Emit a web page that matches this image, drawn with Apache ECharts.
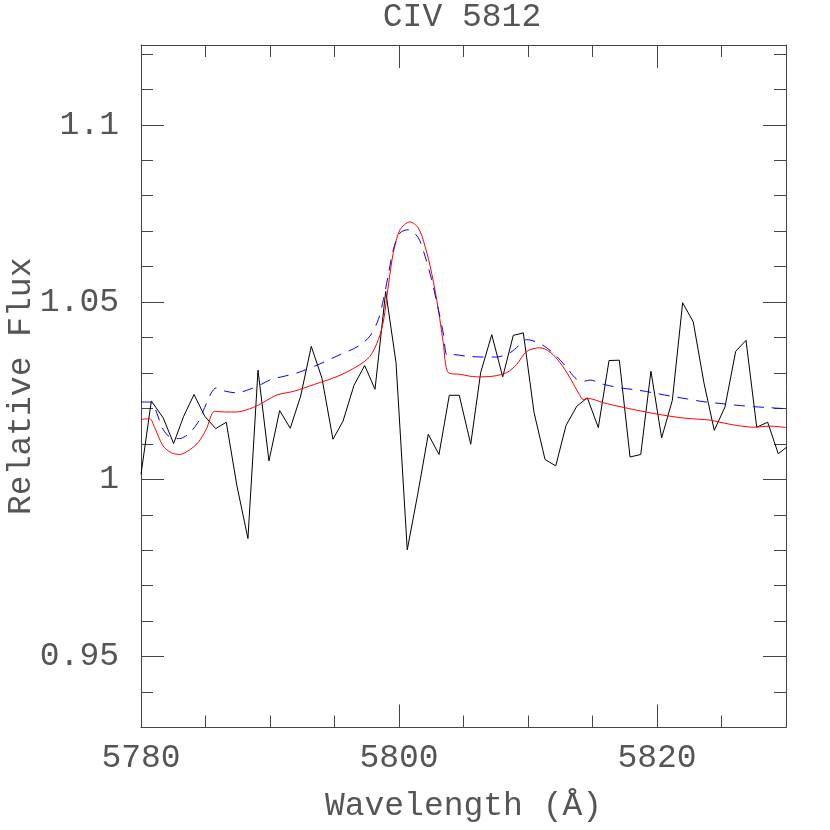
<!DOCTYPE html>
<html>
<head>
<meta charset="utf-8">
<title>CIV 5812</title>
<script src="https://cdn.jsdelivr.net/npm/echarts@6/dist/echarts.min.js"></script>
<style>
  html, body { margin: 0; padding: 0; background: #fff; }
  #chart { width: 830px; height: 830px; }
</style>
</head>
<body>
<div id="chart"></div>
<script>
// observed spectrum (black)
var obsWave = [5780.00, 5780.80, 5781.71, 5782.53, 5783.31, 5784.11, 5784.94, 5785.79, 5786.61, 5787.44,
  5788.29, 5789.07, 5789.92, 5790.75, 5791.57, 5792.38, 5793.20, 5794.03, 5794.88, 5795.66,
  5796.51, 5797.34, 5798.14, 5798.97, 5799.77, 5800.64, 5801.45, 5802.27, 5803.10, 5803.90,
  5804.67, 5805.56, 5806.33, 5807.19, 5808.04, 5808.86, 5809.64, 5810.47, 5811.32, 5812.15,
  5812.95, 5813.78, 5814.60, 5815.45, 5816.28, 5817.08, 5817.91, 5818.74, 5819.53, 5820.36,
  5821.19, 5821.99, 5822.81, 5823.64, 5824.44, 5825.27, 5826.10, 5826.90, 5827.73, 5828.58,
  5829.40, 5830.07]
var obsFlux = [1.0014, 1.0221, 1.0174, 1.0101, 1.0178, 1.0239, 1.0178, 1.0143, 1.0161, 0.9981,
  0.9833, 1.0308, 1.0052, 1.0194, 1.0144, 1.0235, 1.0375, 1.0285, 1.0113, 1.0164,
  1.0265, 1.0321, 1.0254, 1.0530, 1.0329, 0.9801, 0.9958, 1.0127, 1.0070, 1.0237,
  1.0237, 1.0099, 1.0301, 1.0408, 1.0289, 1.0406, 1.0413, 1.0188, 1.0056, 1.0038,
  1.0152, 1.0206, 1.0230, 1.0146, 1.0335, 1.0336, 1.0063, 1.0070, 1.0305, 1.0117,
  1.0223, 1.0498, 1.0444, 1.0272, 1.0138, 1.0204, 1.0361, 1.0392, 1.0147, 1.0161,
  1.0072, 1.0091]

// model 1 (red, solid)
var redWave = [5780.00, 5780.67, 5781.06, 5781.71, 5782.35, 5783.00, 5783.64, 5784.41, 5785.06, 5785.71,
  5786.49, 5787.39, 5788.43, 5789.33, 5790.10, 5790.62, 5791.91, 5793.46, 5795.27, 5796.82,
  5797.75, 5798.40, 5798.79, 5799.17, 5799.56, 5800.08, 5800.85, 5801.50, 5802.02, 5802.53,
  5803.05, 5803.43, 5803.82, 5804.73, 5806.02, 5807.31, 5808.35, 5809.12, 5809.90, 5810.93,
  5811.71, 5812.48, 5813.26, 5813.98, 5814.29, 5814.67, 5815.84, 5817.13, 5818.43, 5819.71,
  5821.01, 5822.30, 5824.11, 5824.88, 5826.18, 5827.47, 5828.76, 5830.00]
var redFlux = [1.0169, 1.0171, 1.0146, 1.0094, 1.0075, 1.0070, 1.0080, 1.0103, 1.0141, 1.0192,
  1.0190, 1.0190, 1.0199, 1.0214, 1.0230, 1.0239, 1.0249, 1.0268, 1.0291, 1.0320,
  1.0347, 1.0394, 1.0446, 1.0545, 1.0639, 1.0704, 1.0726, 1.0709, 1.0657, 1.0582,
  1.0479, 1.0385, 1.0301, 1.0296, 1.0289, 1.0291, 1.0301, 1.0324, 1.0361, 1.0371,
  1.0359, 1.0329, 1.0286, 1.0239, 1.0225, 1.0228, 1.0216, 1.0205, 1.0195, 1.0186,
  1.0178, 1.0172, 1.0167, 1.0161, 1.0152, 1.0147, 1.0150, 1.0146]

// model 2 (blue, dashed)
var blueWave = [5780.00, 5780.67, 5781.06, 5781.71, 5782.35, 5783.00, 5783.64, 5784.41, 5784.93, 5785.45,
  5785.84, 5786.49, 5787.39, 5788.43, 5789.33, 5790.10, 5791.14, 5792.17, 5793.46, 5795.27,
  5796.82, 5797.75, 5798.40, 5798.79, 5799.17, 5799.56, 5800.08, 5800.72, 5801.50, 5802.02,
  5802.53, 5803.05, 5803.43, 5803.74, 5804.21, 5805.24, 5806.53, 5807.56, 5808.60, 5809.38,
  5809.90, 5810.67, 5811.45, 5812.22, 5813.00, 5813.78, 5814.42, 5814.81, 5815.84, 5817.13,
  5818.43, 5819.71, 5821.01, 5822.30, 5823.59, 5824.88, 5826.18, 5827.47, 5828.76, 5830.00]
var blueFlux = [1.0218, 1.0218, 1.0202, 1.0141, 1.0117, 1.0115, 1.0127, 1.0160, 1.0202, 1.0244,
  1.0258, 1.0249, 1.0244, 1.0254, 1.0268, 1.0282, 1.0291, 1.0301, 1.0319, 1.0349,
  1.0375, 1.0404, 1.0451, 1.0507, 1.0577, 1.0648, 1.0695, 1.0704, 1.0681, 1.0629,
  1.0563, 1.0479, 1.0413, 1.0349, 1.0352, 1.0347, 1.0345, 1.0345, 1.0357, 1.0380,
  1.0394, 1.0387, 1.0371, 1.0347, 1.0315, 1.0282, 1.0277, 1.0280, 1.0268, 1.0258,
  1.0252, 1.0244, 1.0235, 1.0227, 1.0219, 1.0214, 1.0209, 1.0205, 1.0202, 1.0199]

// ticks
var xMajorTicks = [5780, 5800, 5820]
var xMajorLabels = ['5780', '5800', '5820']
var xMinorTicks = [5785, 5790, 5795, 5805, 5810, 5815, 5825]
var yMajorTicks = [0.95, 1, 1.05, 1.1]
var yMajorLabels = ['0.95', '1', '1.05', '1.1']
var yMinorTicks = [0.93, 0.94, 0.96, 0.97, 0.98, 0.99, 1.01, 1.02, 1.03, 1.04,
  1.06, 1.07, 1.08, 1.09, 1.11, 1.12]

var xMin = 5780, xMax = 5830
var yMin = 0.93, yMax = 1.1225

var fontFam = '"Liberation Mono", monospace'
var txtColor = '#555'
var axColor = '#444'

function zip(xs, ys) {
  return xs.map(function (x, i) { return [x, ys[i]] })
}

function labelFor(ticks, labels) {
  return function (v) {
    for (var i = 0; i < ticks.length; i++) {
      if (Math.abs(ticks[i] - v) < 1e-6) return labels[i]
    }
    return ''
  }
}

function xAxisOf(pos, ticks, len, showLine, labels) {
  return {
    type: 'value', position: pos, min: xMin, max: xMax,
    axisLine: { show: showLine, lineStyle: { color: axColor, width: 1 } },
    axisTick: { show: true, inside: true, length: len, customValues: ticks, lineStyle: { color: axColor } },
    axisLabel: labels ? {
      show: true, customValues: ticks, margin: 14,
      fontFamily: fontFam, fontSize: 33, color: txtColor,
      formatter: labelFor(xMajorTicks, xMajorLabels)
    } : { show: false },
    splitLine: { show: false }
  }
}

function yAxisOf(pos, ticks, len, showLine, labels) {
  return {
    type: 'value', position: pos, min: yMin, max: yMax,
    axisLine: { show: showLine, lineStyle: { color: axColor, width: 1 } },
    axisTick: { show: true, inside: true, length: len, customValues: ticks, lineStyle: { color: axColor } },
    axisLabel: labels ? {
      show: true, customValues: ticks, margin: 22,
      fontFamily: fontFam, fontSize: 33, color: txtColor,
      formatter: labelFor(yMajorTicks, yMajorLabels)
    } : { show: false },
    splitLine: { show: false }
  }
}

var chart = echarts.init(document.getElementById('chart'), null, { renderer: 'canvas' })

var xAxes = [
  xAxisOf('bottom', xMajorTicks, 23, true, true),
  xAxisOf('bottom', xMinorTicks, 12, false, false),
  xAxisOf('top', xMajorTicks, 23, true, false),
  xAxisOf('top', xMinorTicks, 12, false, false)
]
xAxes[0].name = 'Wavelength (Å)'
xAxes[0].nameLocation = 'middle'
xAxes[0].nameGap = 62
xAxes[0].nameMoveOverlap = false
xAxes[0].nameTextStyle = { fontFamily: fontFam, fontSize: 33, color: txtColor }

var yAxes = [
  yAxisOf('left', yMajorTicks, 23, true, true),
  yAxisOf('left', yMinorTicks, 12, false, false),
  yAxisOf('right', yMajorTicks, 23, true, false),
  yAxisOf('right', yMinorTicks, 12, false, false)
]
yAxes[0].name = 'Relative Flux'
yAxes[0].nameLocation = 'middle'
yAxes[0].nameGap = 103
yAxes[0].nameMoveOverlap = false
yAxes[0].nameTextStyle = { fontFamily: fontFam, fontSize: 33, color: txtColor }

var option = {
  animation: false,
  backgroundColor: '#fff',
  title: {
    text: 'CIV 5812',
    left: 457, top: -4, textAlign: 'center',
    textStyle: { fontFamily: fontFam, fontSize: 33, fontWeight: 'normal', color: txtColor }
  },
  grid: {
    left: 141, right: 44, top: 45, bottom: 102.5,
    containLabel: false, outerBoundsMode: 'none'
  },
  xAxis: xAxes,
  yAxis: yAxes,
  series: [
    {
      name: 'observed', type: 'line', data: zip(obsWave, obsFlux),
      showSymbol: false, lineStyle: { color: '#000', width: 1 }, z: 3
    },
    {
      name: 'model red', type: 'line', data: zip(redWave, redFlux), smooth: 0.3,
      showSymbol: false, lineStyle: { color: '#ff0000', width: 1 }, z: 4
    },
    {
      name: 'model blue', type: 'line', data: zip(blueWave, blueFlux), smooth: 0.3,
      showSymbol: false, lineStyle: { color: '#0000ff', width: 1, type: [11, 8] }, z: 5
    }
  ]
}

chart.setOption(option)
</script>
</body>
</html>
